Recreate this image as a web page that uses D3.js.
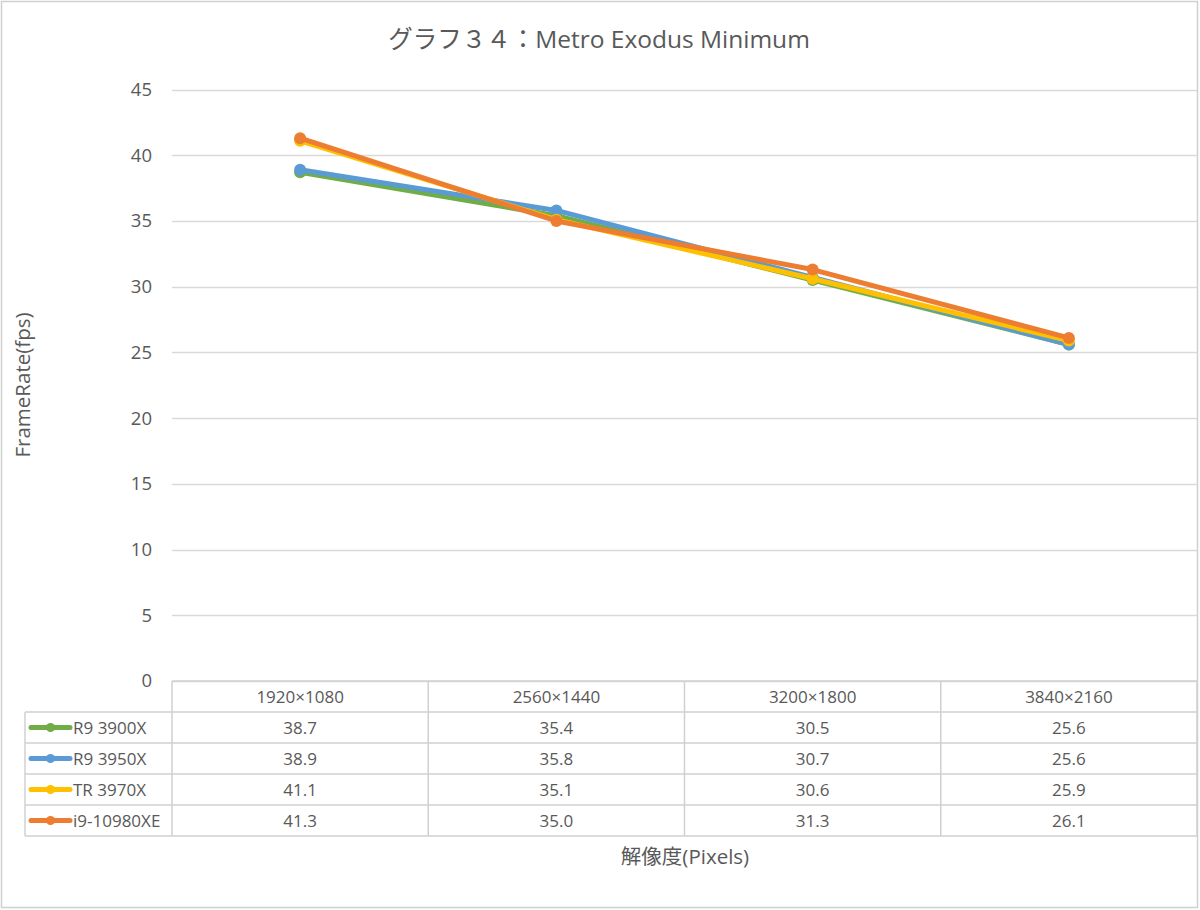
<!DOCTYPE html>
<html><head><meta charset="utf-8">
<script src="https://cdn.jsdelivr.net/npm/d3@7"></script>
<style>
html,body{margin:0;padding:0;background:#fff;}
svg text{font-family:"Open Sans","Noto Sans CJK JP",sans-serif;fill:#595959;}
</style></head>
<body><svg id="c" width="1200" height="910"></svg>
<script>
const categories = ["1920×1080","2560×1440","3200×1800","3840×2160"];
const seriesNames = ["R9 3900X","R9 3950X","TR 3970X","i9-10980XE"];
const seriesColors = ["#70AD47","#5B9BD5","#FFC000","#ED7D31"];
const r9_3900x = [38.7,35.4,30.5,25.6];
const r9_3950x = [38.9,35.8,30.7,25.6];
const tr_3970x = [41.1,35.1,30.6,25.9];
const i9_10980xe = [41.3,35.0,31.3,26.1];
const yTicks = [0,5,10,15,20,25,30,35,40,45];
const title = "グラフ３４：Metro Exodus Minimum";
const yTitle = "FrameRate(fps)";
const xTitle = "解像度(Pixels)";

(function(){
const seriesValues = [r9_3900x,r9_3950x,tr_3970x,i9_10980xe];
const svg = d3.select("#c");
const FONT = "'Open Sans','Noto Sans CJK JP',sans-serif";

svg.append("rect").attr("x",1.5).attr("y",1.5).attr("width",1196).attr("height",906)
  .attr("fill","#fff").attr("stroke","#d0d0d0").attr("stroke-width",1.5);

const pLeft = 172, pRight = 1197, pTop = 89.5, pBottom = 681;
const x = d3.scaleBand().domain(categories).range([pLeft,pRight]);
const y = d3.scaleLinear().domain([0,45]).range([pBottom,pTop]);

svg.append("g").selectAll("line").data(yTicks).join("line")
  .attr("x1",pLeft).attr("x2",pRight)
  .attr("y1",d=>Math.round(y(d))+0.5).attr("y2",d=>Math.round(y(d))+0.5)
  .attr("stroke","#d9d9d9").attr("stroke-width",1.3);

const yAxis = d3.axisLeft(y).tickValues(yTicks).tickSize(0).tickPadding(20);
const ga = svg.append("g").attr("transform",`translate(${pLeft},0)`).call(yAxis);
ga.select(".domain").remove();
ga.selectAll("text").style("font-size","18.5px").attr("fill","#595959").style("font-family",FONT);

svg.append("text").attr("x",599).attr("y",48).attr("text-anchor","middle")
  .style("font-size","24.5px").text(title);

svg.append("text").attr("transform","translate(30,385) rotate(-90)")
  .attr("text-anchor","middle").style("font-size","20.5px").text(yTitle);

svg.append("text").attr("x",685).attr("y",864).attr("text-anchor","middle")
  .style("font-size","20.5px").text(xTitle);

const line = d3.line().x((d,i)=>x(categories[i])+x.bandwidth()/2).y(d=>y(d));
seriesValues.forEach((vals,si)=>{
  const g = svg.append("g");
  g.append("path").datum(vals).attr("d",line).attr("fill","none")
    .attr("stroke",seriesColors[si]).attr("stroke-width",5).attr("stroke-linejoin","round").attr("stroke-linecap","round");
  g.selectAll("circle").data(vals).join("circle")
    .attr("cx",(d,i)=>x(categories[i])+x.bandwidth()/2).attr("cy",d=>y(d)).attr("r",6)
    .attr("fill",seriesColors[si]);
});

const rowH = 31, tableTop = 681, legLeft = 25;
const tg = svg.append("g");
const tableStroke = "#d0d0d0";
tg.append("line").attr("x1",pLeft).attr("x2",pRight).attr("y1",tableTop).attr("y2",tableTop).attr("stroke",tableStroke).attr("stroke-width",1.5);
for(let r=1;r<=5;r++){
  tg.append("line").attr("x1",legLeft).attr("x2",pRight).attr("y1",tableTop+r*rowH).attr("y2",tableTop+r*rowH)
    .attr("stroke",tableStroke).attr("stroke-width",1.5);
}
tg.append("line").attr("x1",legLeft).attr("x2",legLeft).attr("y1",tableTop+rowH).attr("y2",tableTop+5*rowH).attr("stroke",tableStroke).attr("stroke-width",1.5);
categories.forEach((c,i)=>{
  const xx = x(c);
  tg.append("line").attr("x1",xx).attr("x2",xx).attr("y1",tableTop).attr("y2",tableTop+5*rowH).attr("stroke",tableStroke).attr("stroke-width",1.5);
});
tg.append("line").attr("x1",pRight).attr("x2",pRight).attr("y1",tableTop).attr("y2",tableTop+5*rowH).attr("stroke",tableStroke).attr("stroke-width",1.5);

tg.selectAll("text.h").data(categories).join("text").attr("class","h")
  .attr("x",d=>x(d)+x.bandwidth()/2).attr("y",tableTop+rowH/2+6).attr("text-anchor","middle")
  .style("font-size","17px").text(d=>d);

seriesNames.forEach((name,si)=>{
  const cy = tableTop+rowH*(si+1)+rowH/2;
  tg.append("line").attr("x1",31).attr("x2",70).attr("y1",cy).attr("y2",cy)
    .attr("stroke",seriesColors[si]).attr("stroke-width",5).attr("stroke-linecap","round");
  tg.append("circle").attr("cx",50.5).attr("cy",cy).attr("r",4.5).attr("fill",seriesColors[si]);
  tg.append("text").attr("x",73).attr("y",cy+6).style("font-size","17px").text(name);
  seriesValues[si].forEach((v,i)=>{
    tg.append("text").attr("x",x(categories[i])+x.bandwidth()/2).attr("y",cy+6).attr("text-anchor","middle")
      .style("font-size","17px").text(v.toFixed(1));
  });
});
})();
</script></body></html>
